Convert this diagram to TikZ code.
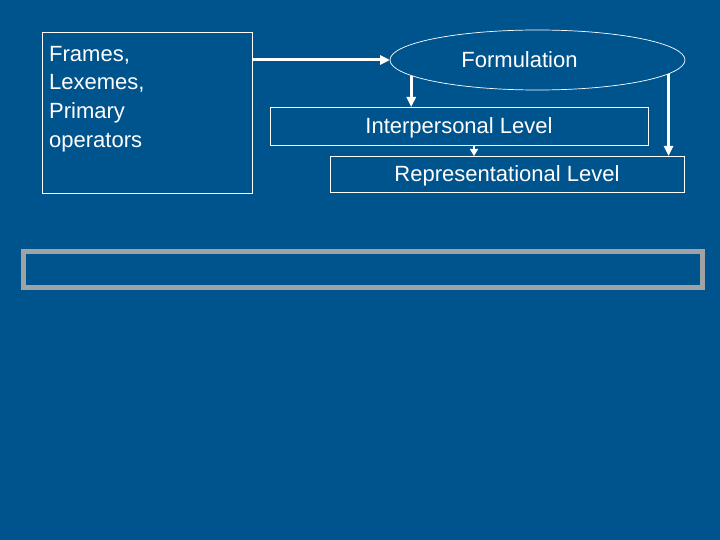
\documentclass[tikz,border=0pt]{standalone}
\usepackage{fontspec}
\setmainfont{Liberation Sans}
\usetikzlibrary{positioning,calc}
\usetikzlibrary{arrows.meta,shapes.geometric}
\definecolor{SlideBlue}{RGB}{0,84,142}
\definecolor{FrameGray}{RGB}{160,162,164}
\tikzset{
  box/.style={draw=white,line width=0.9pt,inner sep=0pt,outer sep=0pt,text=white,
    text depth=0pt,font=\fontsize{22}{26}\selectfont},
  blob/.style={ellipse,draw=white,line width=0.7pt,inner sep=0pt,outer sep=0pt,text=white,
    minimum width=295pt,minimum height=60pt,font=\fontsize{22}{26}\selectfont},
  arr/.style={draw=white,line width=3pt,-{Triangle[length=10pt,width=9pt]}},
  thinarr/.style={draw=white,line width=1.6pt,-{Triangle[length=7pt,width=8pt]}},
}

\begin{document}
\begin{tikzpicture}[x=1pt,y=-1pt]
\useasboundingbox[fill=SlideBlue] (0,0) rectangle (720,540);
\node[box,minimum width=210pt,minimum height=161pt] (src) at (147,112.5) {};
\node[anchor=north west,text=white,align=left,inner sep=0pt,
  font=\fontsize{22}{28.6}\selectfont] (srctext) at (49,46) {Frames,\\Lexemes,\\Primary\\operators};
\node[blob] (form) at (537.5,60) {Formulation\kern36pt};
\node[box,minimum width=378pt,minimum height=38pt] (inter) at (459,126) {Interpersonal Level};
\node[box,minimum width=354pt,minimum height=36pt] (repr) at (507,174) {Representational Level};
\node[draw=FrameGray,line width=5pt,minimum width=679pt,minimum height=36pt,
  inner sep=0pt] (slot) at (363,269.5) {};
\draw[arr] (src.east |- form.west) -- (form.west);
\draw[arr] (form.187) -- (form.187 |- inter.north);
\draw[arr] (form.-6.4) -- (form.-6.4 |- repr.north);
\draw[thinarr] ([xshift=15pt]inter.south) -- ([xshift=15pt]inter.south |- repr.north);
\end{tikzpicture}
\end{document}
